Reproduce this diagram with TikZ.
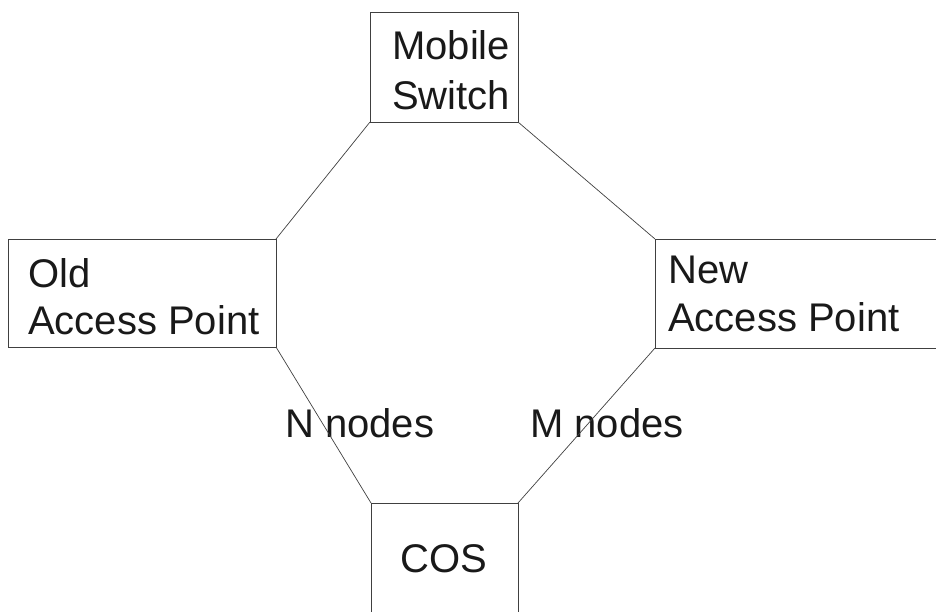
\documentclass[tikz,border=0pt]{standalone}
\usepackage{fontspec}
\setmainfont{Liberation Sans}
\begin{document}
\begin{tikzpicture}[x=1pt,y=-1pt,
  box/.style={draw=black!75, line width=0.8pt, rectangle, inner sep=0pt, outer sep=0pt, anchor=north west},
  lbl/.style={anchor=base west, font=\fontsize{40}{48}\selectfont, text=black!90, inner sep=0pt},
  link/.style={draw=black!75, line width=0.7pt}]
\useasboundingbox (0,0) rectangle (936,612);
\node[box, minimum width=148pt, minimum height=110pt] (ms) at (370,12) {};
\node[box, minimum width=268pt, minimum height=108pt] (old) at (8,239) {};
\node[box, minimum width=290pt, minimum height=109pt] (new) at (655,239) {};
\node[box, minimum width=147pt, minimum height=115pt] (cos) at (371,503) {};
\node[lbl] (t1) at (392,60) {Mobile};
\node[lbl] (t2) at (392,110) {Switch};
\node[lbl] (t3) at (28,287) {Old};
\node[lbl] (t4) at (28,334) {Access Point};
\node[lbl] (t5) at (668,283) {New};
\node[lbl] (t6) at (668,331) {Access Point};
\node[lbl, anchor=base] (t7) at (444,572) {COS};
\node[lbl] (nn) at (285,437) {N nodes};
\node[lbl] (mn) at (530,437) {M nodes};
\draw[link] (ms.south west) -- (old.north east);
\draw[link] (ms.south east) -- (new.north west);
\draw[link] (old.south east) -- (cos.north west);
\draw[link] (new.south west) -- (cos.north east);
\end{tikzpicture}
\end{document}
